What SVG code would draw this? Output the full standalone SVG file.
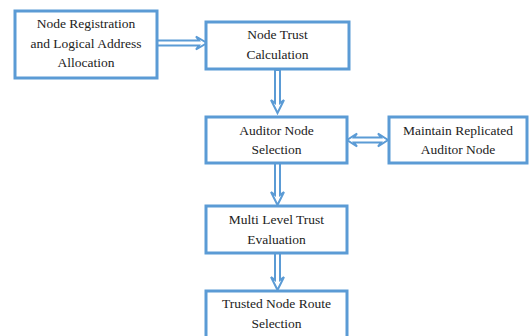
<svg xmlns="http://www.w3.org/2000/svg" width="530" height="336" viewBox="0 0 530 336">
<style>
.box{fill:#fff;stroke:#5b9bd5;stroke-width:3}
.arr{fill:#fff;stroke:#5b9bd5;stroke-width:2;stroke-linejoin:miter}
text{font-family:'Liberation Serif','DejaVu Serif',serif;font-size:13.5px;fill:#222;text-anchor:middle}
</style>
<rect width="530" height="336" fill="#fff"/>
<g id="connectors">
<polygon class="arr" points="157,40.5 199,40.5 196,36.5 207,43 196,49.5 199,45.5 157,45.5"/>
<polygon class="arr" points="275,70 275,103 271,100 277.5,113 284,100 280,103 280,70"/>
<polygon class="arr" points="347,140 357,133.5 354,137.5 381,137.5 378,133.5 388,140 378,146.5 381,142.5 354,142.5 357,146.5"/>
<polygon class="arr" points="275,163 275,195 271,192 277.5,205 284,192 280,195 280,163"/>
<polygon class="arr" points="275,253 275,280 271,277 277.5,290 284,277 280,280 280,253"/>
</g>
<g id="n1"><rect class="box" x="15" y="11" width="142" height="67"/>
<text x="86" y="28">Node Registration</text><text x="86" y="48">and Logical Address</text><text x="86" y="67">Allocation</text></g>
<g id="n2"><rect class="box" x="206" y="22" width="143" height="47"/>
<text x="277.5" y="39">Node Trust</text><text x="277.5" y="59">Calculation</text></g>
<g id="n3"><rect class="box" x="206" y="117" width="141" height="46"/>
<text x="276.5" y="135">Auditor Node</text><text x="276.5" y="154">Selection</text></g>
<g id="n4"><rect class="box" x="389" y="117" width="138" height="46"/>
<text x="458" y="135">Maintain Replicated</text><text x="458" y="154">Auditor Node</text></g>
<g id="n5"><rect class="box" x="206" y="206" width="141" height="47"/>
<text x="276.5" y="224">Multi Level Trust</text><text x="276.5" y="244">Evaluation</text></g>
<g id="n6"><rect class="box" x="206" y="291" width="141" height="50"/>
<text x="276.5" y="308">Trusted Node Route</text><text x="276.5" y="328">Selection</text></g>
</svg>
